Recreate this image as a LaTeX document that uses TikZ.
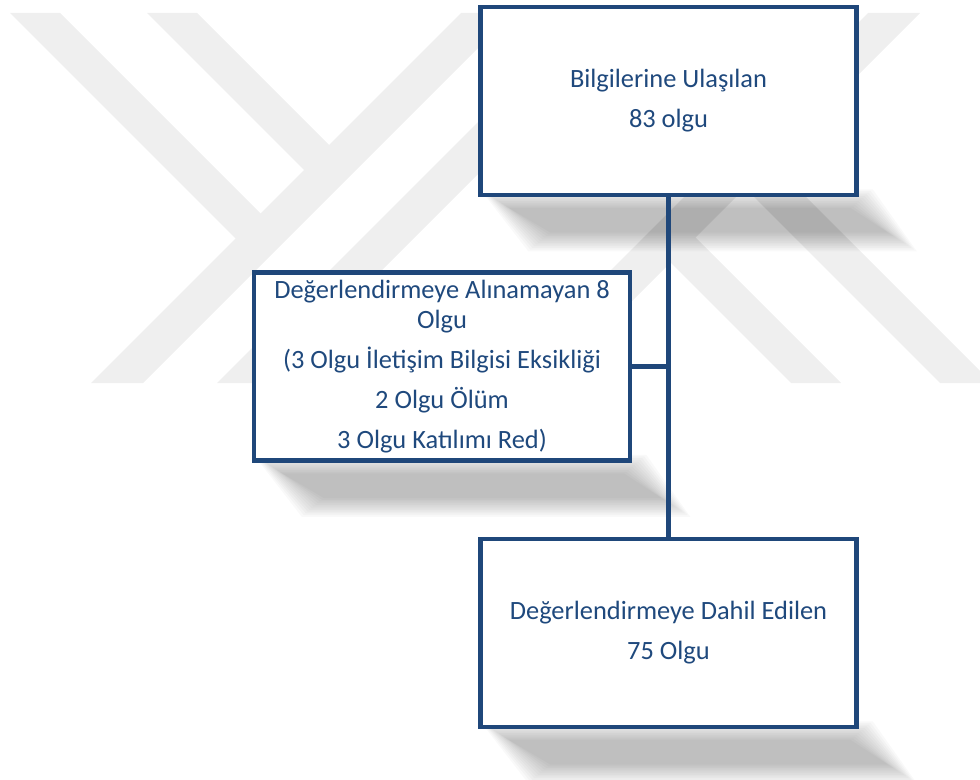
\documentclass[tikz,border=0pt]{standalone}
\usepackage{fontspec}
\setmainfont{Carlito}
\usepackage{tikz}
\usetikzlibrary{backgrounds,calc}
\definecolor{boxblue}{RGB}{31,71,122}
\definecolor{txtblue}{RGB}{31,73,125}
\definecolor{wmgray}{RGB}{239,239,239}

\begin{document}
\begin{tikzpicture}[x=0.75pt,y=-0.75pt,
  box/.style={draw=boxblue,line width=3.4pt,fill=white,text=txtblue,align=center,
    minimum width=282pt,minimum height=141pt,inner sep=0pt,
    font=\fontsize{19.8}{22}\selectfont},
  link/.style={draw=boxblue,line width=3.4pt},
  wm/.style={fill=wmgray}]
\useasboundingbox (0,0) rectangle (980,780);

\node[box] (top) at (668.5,101) {Bilgilerine Ulaşılan\\[8pt]83 olgu};
\node[box] (excl) at (442,366.5) {Değerlendirmeye Alınamayan 8\\Olgu\\[8pt](3 Olgu İletişim Bilgisi Eksikliği\\[8pt]2 Olgu Ölüm\\[8pt]3 Olgu Katılımı Red)};
\node[box] (incl) at (668.5,633) {Değerlendirmeye Dahil Edilen\\[8pt]75 Olgu};

\draw[link] (top.south) -- (incl.north);
\draw[link] (excl.east) -- (excl.east -| top.south);

% faint logo behind the chart
\begin{scope}[on background layer]
\clip (0,0) rectangle (980,780);
\fill[wm] (10,13) -- (60,13) -- (273.5,226.5) -- (248.5,251.5) -- cycle;
\fill[wm] (147,13) -- (197,13) -- (342,158) -- (317,183) -- cycle;
\fill[wm] (461,13) -- (513,13) -- (143,383) -- (91,383) -- cycle;
\fill[wm] (587,13) -- (639,13) -- (269,383) -- (217,383) -- cycle;
\fill[wm] (868,13) -- (920,13) -- (550,383) -- (498,383) -- cycle;
\fill[wm] (656.5,248.5) -- (681.5,223.5) -- (841,383) -- (791,383) -- cycle;
\fill[wm] (731,174) -- (757,148) -- (992,383) -- (940,383) -- cycle;
\end{scope}

\begin{scope}[on background layer]
\foreach \b in {top,excl,incl}
  \foreach \k in {0,...,11}
    \fill[black,opacity=0.025]
      ($(\b.south west)+(2+2.6*\k,-8+1.7*\k)$) -- ($(\b.south east)+(14-2*\k,-8+1.7*\k)$)
      -- ($(\b.south east)+(58-2.6*\k,54-1.7*\k)$) -- ($(\b.south west)+(50+2*\k,54-1.7*\k)$) -- cycle;
\end{scope}
\end{tikzpicture}
\end{document}
